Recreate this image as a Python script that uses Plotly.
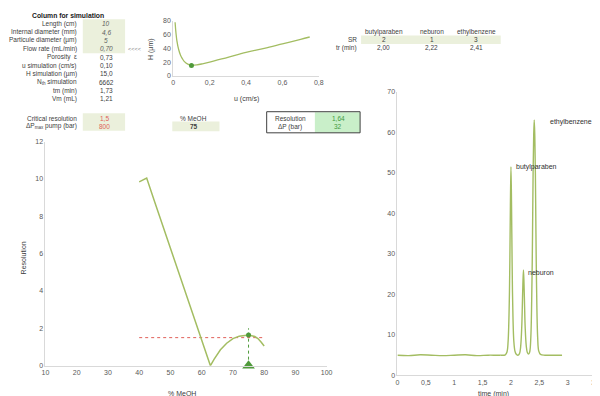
import plotly.graph_objects as go

W, H = 600, 396
def fx(x): return x / W
def fy(y): return 1 - y / H

# ---------------- data ----------------
col_labels = ["Length (cm)", "Internal diameter (mm)", "Particule diameter (µm)", "Flow rate (mL/min)",
              "Porosity  ε", "u simulation (cm/s)", "H simulation (µm)", "N<sub>th</sub> simulation",
              "tm (min)", "Vm (mL)"]
col_values = ["10", "4,6", "5", "0,70", "0,73", "0,10", "15,0", "6662", "1,73", "1,21"]

crit_labels = ["Critical resolution", "ΔP<sub>max</sub> pump (bar)"]
crit_values = ["1,5", "800"]
meoh_value = "75"
res_labels = ["Resolution", "ΔP (bar)"]
res_values = ["1,64", "32"]

compounds = ["butylparaben", "neburon", "ethylbenzene"]
sr_values = ["2", "1", "3"]
tr_values = ["2,00", "2,22", "2,41"]

# Van Deemter curve (H vs u)
u_vals = [0.01, 0.015, 0.02, 0.03, 0.04, 0.05, 0.06, 0.08, 0.10, 0.13, 0.16, 0.2, 0.3, 0.4, 0.5, 0.6, 0.7, 0.75]
h_vals = [78, 62, 51, 38, 30, 25, 21, 17, 15.5, 16, 17.5, 20, 27, 34, 40, 46.5, 53, 56.5]
u_sim, h_sim = 0.10, 15.0

# Resolution vs % MeOH
meoh = [40, 42.4, 45, 50, 55, 60, 62.8, 64, 66, 68, 70, 72, 75, 77, 78, 79, 80]
resol = [9.85, 10.05, 8.75, 6.3, 3.85, 1.4, 0.0, 0.35, 0.85, 1.2, 1.45, 1.58, 1.64, 1.56, 1.45, 1.27, 1.05]
crit_res = 1.5
meoh_sel, res_sel = 75, 1.64

# Chromatogram
t_min = [0, 0.2, 0.4, 0.6, 0.8, 1.0, 1.2, 1.4, 1.6, 1.8, 1.9, 1.93, 1.95, 1.97, 1.98, 1.99, 2.00, 2.01, 2.02, 2.03,
         2.05, 2.07, 2.09, 2.12, 2.15, 2.17, 2.19, 2.20, 2.21, 2.22, 2.23, 2.24, 2.25, 2.27, 2.29, 2.31,
         2.33, 2.35, 2.37, 2.38, 2.39, 2.40, 2.41, 2.42, 2.43, 2.44, 2.45, 2.47, 2.49, 2.52, 2.6, 2.75, 2.9]
signal = [5.0, 4.9, 5.1, 5.0, 4.9, 5.0, 5.1, 4.9, 5.0, 5.0, 5.1, 5.8, 8.5, 18, 28, 42, 51.5, 42, 28, 18,
          8.5, 6.0, 5.3, 5.0, 5.4, 7.0, 12, 17, 22.5, 26, 22.5, 17, 12, 7.2, 5.6, 5.3,
          5.8, 9.5, 23, 35, 50, 59, 63, 59, 50, 35, 23, 9.5, 6.0, 5.2, 5.0, 5.0, 5.0]
peak_label_pos = [(2.05, 51.5), (2.27, 25.5), (2.66, 62.5)]

# ---------------- styling ----------------
LINE = "#a3bd62"
DOT = "#4f9a3b"
RED = "#e0605a"
GREEN_TXT = "#3f9a3f"
BEIGE = "#ebf0dc"
LGREEN = "#c9efc9"
AX = "#d9d9d9"
TXT = "#404040"
TICK = "#595959"
FONT = "Liberation Sans, Arial, sans-serif"
TS = 6.5  # table font size

fig = go.Figure()

# H vs u
fig.add_trace(go.Scatter(x=u_vals, y=h_vals, mode="lines", line=dict(color=LINE, width=1.3, shape="spline"),
                         xaxis="x", yaxis="y", showlegend=False, hoverinfo="skip"))
fig.add_trace(go.Scatter(x=[u_sim], y=[h_sim], mode="markers", marker=dict(color=DOT, size=5),
                         xaxis="x", yaxis="y", showlegend=False))

# Resolution vs MeOH
fig.add_trace(go.Scatter(x=[meoh[0], meoh[-1]], y=[crit_res, crit_res], mode="lines",
                         line=dict(color=RED, width=1, dash="dot"), xaxis="x2", yaxis="y2", showlegend=False))
fig.add_trace(go.Scatter(x=[meoh_sel, meoh_sel], y=[0, 2.0], mode="lines",
                         line=dict(color=DOT, width=1, dash="dot"), xaxis="x2", yaxis="y2", showlegend=False))
fig.add_trace(go.Scatter(x=meoh, y=resol, mode="lines", line=dict(color=LINE, width=1.5),
                         xaxis="x2", yaxis="y2", showlegend=False))
fig.add_trace(go.Scatter(x=[meoh_sel], y=[res_sel], mode="markers", marker=dict(color=DOT, size=5),
                         xaxis="x2", yaxis="y2", showlegend=False))
fig.add_trace(go.Scatter(x=[meoh_sel], y=[0], mode="markers",
                         marker=dict(color=DOT, size=11, symbol="triangle-up"),
                         xaxis="x2", yaxis="y2", showlegend=False, cliponaxis=False))

# Chromatogram
fig.add_trace(go.Scatter(x=t_min, y=signal, mode="lines", line=dict(color=LINE, width=1.4, shape="spline"),
                         xaxis="x3", yaxis="y3", showlegend=False))

axis_common = dict(showgrid=False, zeroline=False, showline=True, linecolor=AX, linewidth=1,
                   ticks="", tickfont=dict(size=7, color=TICK, family=FONT))

fig.update_layout(
    width=W, height=H, margin=dict(l=0, r=0, t=0, b=0),
    paper_bgcolor="white", plot_bgcolor="white",
    separators=", ",
    font=dict(family=FONT, size=7, color=TXT),
    xaxis=dict(domain=[fx(164), fx(312)], range=[0, 0.8], dtick=0.2, anchor="y", **axis_common),
    yaxis=dict(domain=[fy(65), fy(9)], range=[0, 80], dtick=20, anchor="x", **axis_common),
    xaxis2=dict(domain=[fx(34), fx(320)], range=[10, 100], dtick=10, anchor="y2", **axis_common),
    yaxis2=dict(domain=[fy(360), fy(132)], range=[0, 12], dtick=2, anchor="x2", **axis_common),
    xaxis3=dict(domain=[fx(392), fx(594)], range=[0, 3.5], dtick=0.5, anchor="y3", **axis_common),
    yaxis3=dict(domain=[fy(370), fy(81)], range=[0, 70], dtick=10, anchor="x3", **axis_common),
)

shapes = []
anns = []

def rect(x0, y0, x1, y1, fill, line=None):
    shapes.append(dict(type="rect", xref="paper", yref="paper", x0=fx(x0), x1=fx(x1), y0=fy(y1), y1=fy(y0),
                       fillcolor=fill, line=dict(width=1 if line else 0, color=line or fill), layer="below"))

def text(x, y, s, anchor="center", color=TXT, size=TS, **kw):
    anns.append(dict(xref="paper", yref="paper", x=fx(x), y=fy(y), text=s, showarrow=False,
                     xanchor=anchor, yanchor="middle", font=dict(size=size, color=color, family=FONT), **kw))

# Column table
text(57, 4, "<b>Column for simulation</b>", color="#202020", size=6.8)
row_y = [12, 20.5, 29, 37.5, 46, 54.5, 63, 71.5, 80, 88.5]
rect(72, 7.5, 115, 42, BEIGE)
for i, (lab, val) in enumerate(zip(col_labels, col_values)):
    text(68, row_y[i], lab, anchor="right")
    v = f"<i>{val}</i>" if i < 4 else val
    text(96, row_y[i], v, color="#606060" if i < 4 else TXT)
text(125, 38, "<<<<", color="#7f7f7f", size=5.5)

# Critical resolution
rect(72, 103, 115, 121, BEIGE)
for i, (lab, val) in enumerate(zip(crit_labels, crit_values)):
    text(68, 108 + 8.5 * i, lab, anchor="right")
    text(94, 108 + 8.5 * i, val, color=RED)

# % MeOH
text(185, 108, "% MeOH")
rect(163, 111.5, 211, 121.5, BEIGE)
text(185, 116.5, f"<b>{meoh_value}</b>")

# Resolution box
rect(308, 102, 354, 123, LGREEN)
shapes.append(dict(type="rect", xref="paper", yref="paper", x0=fx(259), x1=fx(354), y0=fy(123), y1=fy(101.5),
                   fillcolor="rgba(0,0,0,0)", line=dict(width=1, color="#404040"), layer="above"))
for i, (lab, val) in enumerate(zip(res_labels, res_values)):
    text(283, 108.5 + 8.5 * i, lab)
    text(332, 108.5 + 8.5 * i, val, color=GREEN_TXT)

# Compound table
comp_x = [378, 427, 472]
rect(355, 24, 497, 32.5, BEIGE)
text(353, 28, "SR", anchor="right")
text(353, 36.5, "tr (min)", anchor="right")
for cx, c, sr, tr in zip(comp_x, compounds, sr_values, tr_values):
    text(cx, 20, c)
    text(cx, 28, sr)
    text(cx, 36.5, tr)

# Axis titles
text(238, 89, "u (cm/s)", size=7)
anns.append(dict(xref="paper", yref="paper", x=fx(142), y=fy(38), text="H (µm)", showarrow=False, textangle=-90,
                 xanchor="center", yanchor="middle", font=dict(size=7, color=TXT, family=FONT)))
text(173, 388, "% MeOH", size=7)
anns.append(dict(xref="paper", yref="paper", x=fx(12), y=fy(250), text="Resolution", showarrow=False, textangle=-90,
                 xanchor="center", yanchor="middle", font=dict(size=7, color=TXT, family=FONT)))
text(490, 388.5, "time (min)", size=7)

# Peak labels
for (px_, py_), c in zip(peak_label_pos, compounds):
    anns.append(dict(xref="x3", yref="y3", x=px_, y=py_, text=c, showarrow=False, xanchor="left",
                     yanchor="middle", font=dict(size=7, color="#303030", family=FONT)))

fig.update_layout(shapes=shapes, annotations=anns)
fig.write_html("out.html")
